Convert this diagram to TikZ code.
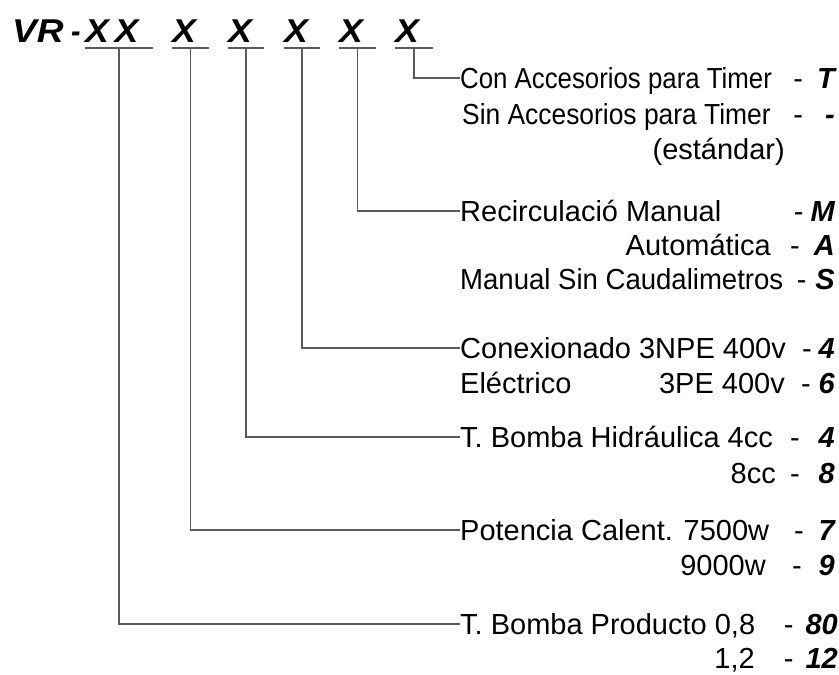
\documentclass[tikz,border=0pt]{standalone}
\usepackage{fontspec}
\setmainfont{Liberation Sans}
\usetikzlibrary{positioning}
\definecolor{linegray}{HTML}{5A5A5A}
\newcommand{\pick}[2]{-\hspace{#1pt}{\fontsize{29}{32}\selectfont\bfseries\itshape #2}}

\begin{document}
\begin{tikzpicture}[x=1pt, y=-1pt,
  desc/.style={inner sep=0pt, text height=21pt, text depth=0pt, font=\fontsize{29}{34}\selectfont},
  hdr/.style={inner sep=0pt, text height=23.6pt, text depth=0pt, xscale=1.08, font=\fontsize{33}{38}\selectfont\bfseries\itshape},
  slot/.style={inner sep=0pt, minimum height=0pt, minimum width=#1},
  conn/.style={draw=linegray, line width=1.1pt}]
  \useasboundingbox (0,0) rectangle (839,675);

  % model number and its slots
  \node[slot=68pt] (s1) at (119,48) {};
  \node[slot=37pt] (s2) at (190.5,48) {};
  \node[slot=36pt] (s3) at (246,48) {};
  \node[slot=36pt] (s4) at (302,48) {};
  \node[slot=37pt] (s5) at (357.5,48) {};
  \node[slot=38pt] (s6) at (414,48) {};
  \foreach \s in {s1,s2,s3,s4,s5,s6}
    \draw[conn] (\s.west) -- (\s.east);

  \node[hdr, anchor=south west, xscale=1.04] (vr) at (12,43) {VR};
  \node[hdr, xscale=0.8, right=7pt of vr] (vrdash) {-};
  \node[hdr, above right=5pt and 0pt of s1.west] (x1) {X\,X};
  \node[hdr, above right=5pt and 0pt of s2.west] (x2) {X};
  \node[hdr, above right=5pt and 0pt of s3.west] (x3) {X};
  \node[hdr, above right=5pt and 0pt of s4.west] (x4) {X};
  \node[hdr, above right=5pt and 0pt of s5.west] (x5) {X};
  \node[hdr, above right=5pt and 0pt of s6.west] (x6) {X};

  % timer
  \node[desc, anchor=west, xscale=0.89] (timer) at (460,78) {Con Accesorios para Timer};
  \node[desc, anchor=east] (timerT) at (835,78) {\pick{14}{T}};
  \node[desc, anchor=west, xscale=0.91] (notimer) at (462,114) {Sin Accesorios para Timer};
  \node[desc, anchor=east] (notimerC) at (835,114) {\pick{22}{-}};
  \node[desc, anchor=east] (estd) at (785,149) {(estándar)};

  % recirculation
  \node[desc, anchor=west] (recirc) at (460,211) {Recirculació Manual};
  \node[desc, anchor=east] (recircM) at (835,211) {\pick{7}{M}};
  \node[desc, anchor=east] (auto) at (771,245) {Automática};
  \node[desc, anchor=east] (autoA) at (835,245) {\pick{14}{A}};
  \node[desc, anchor=west, xscale=0.95] (nocaud) at (460,279) {Manual Sin Caudalimetros};
  \node[desc, anchor=east] (nocaudS) at (835,279) {\pick{9}{S}};

  % electrical connection
  \node[desc, anchor=west] (conex) at (460,348) {Conexionado 3NPE 400v};
  \node[desc, anchor=east] (conex4) at (835,348) {\pick{7}{4}};
  \node[desc, anchor=west] (elec) at (460,383) {Eléctrico};
  \node[desc, anchor=east] (tpe) at (785,383) {3PE 400v};
  \node[desc, anchor=east] (tpe6) at (835,383) {\pick{8}{6}};

  % hydraulic pump
  \node[desc, anchor=west] (hidra) at (460,437) {T. Bomba Hidráulica 4cc};
  \node[desc, anchor=east] (hidra4) at (835,437) {\pick{19}{4}};
  \node[desc, anchor=east] (cc8) at (776,473) {8cc};
  \node[desc, anchor=east] (cc8C) at (835,473) {\pick{19}{8}};

  % heating power
  \node[desc, anchor=west] (poten) at (460,530) {Potencia Calent. 7500w};
  \node[desc, anchor=east] (poten7) at (835,530) {\pick{15}{7}};
  \node[desc, anchor=east] (w9000) at (766,565) {9000w};
  \node[desc, anchor=east] (w9000C) at (835,565) {\pick{17}{9}};

  % product pump
  \node[desc, anchor=west] (prod) at (460,624) {T. Bomba Producto 0,8};
  \node[desc, anchor=east] (prod80) at (838,624) {\pick{12}{80}};
  \node[desc, anchor=east] (p12) at (755,658) {1,2};
  \node[desc, anchor=east] (p12C) at (838,658) {\pick{12}{12}};

  % connectors
  \draw[conn] (s6) |- (timer.west);
  \draw[conn] (s5) |- (recirc.west);
  \draw[conn] (s4) |- (conex.west);
  \draw[conn] (s3) |- (hidra.west);
  \draw[conn] (s2) |- (poten.west);
  \draw[conn] (s1) |- (prod.west);
\end{tikzpicture}
\end{document}
